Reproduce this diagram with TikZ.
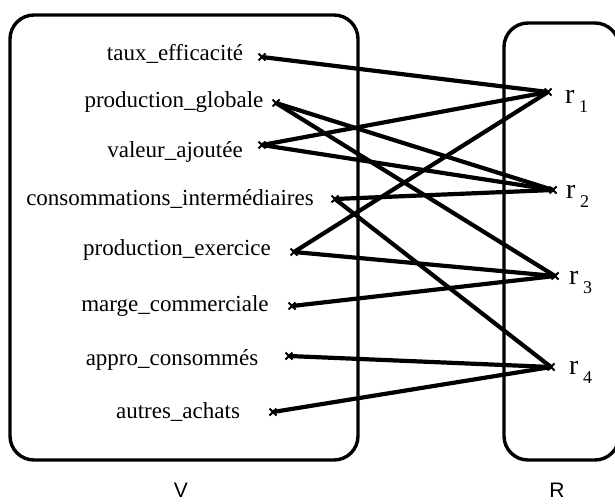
\documentclass[tikz,border=0pt]{standalone}
\usepackage{fontspec}
\setmainfont{Liberation Serif}
\newfontfamily\setfont{Liberation Sans}
\begin{document}
\begin{tikzpicture}[x=1pt,y=-1pt,
  frame/.style={line width=3.4pt, rounded corners=24pt},
  link/.style={line width=4.2pt},
  tick/.style={line width=1.9pt},
  var/.style={anchor=base, inner sep=0pt, font=\fontsize{23}{25}\selectfont},
  rel/.style={anchor=base west, inner sep=0pt, font=\fontsize{28}{30}\selectfont},
  setname/.style={anchor=base, inner sep=0pt, font=\setfont\fontsize{21}{22}\selectfont}]
\useasboundingbox (0,0) rectangle (615,503);
\clip (0,0) rectangle (615,503);

% the two sets
\draw[frame] (10,15) rectangle (358,460);
\draw[frame] (504,23) rectangle (619,460);
\node[setname] (V) at (181,497) {V};
\node[setname] (R) at (557,497) {R};

% variables of V
\node[var] (tx) at (175,60)  {taux\_efficacité};
\node[var] (pg) at (174,107) {production\_globale};
\node[var] (va) at (175,157) {valeur\_ajoutée};
\node[var] (ci) at (170,205) {consommations\_intermédiaires};
\node[var] (pe) at (177,255) {production\_exercice};
\node[var] (mc) at (175,311) {marge\_commerciale};
\node[var] (ac) at (172,365) {appro\_consommés};
\node[var] (aa) at (178,418) {autres\_achats};

% relations of R
\newcommand\relsub[1]{\,\raisebox{-9pt}{\fontsize{18}{18}\selectfont #1}}
\node[rel] (r1) at (565,103) {r\relsub{1}};
\node[rel] (r2) at (566,198) {r\relsub{2}};
\node[rel] (r3) at (569,284) {r\relsub{3}};
\node[rel] (r4) at (569,374) {r\relsub{4}};

% attachment points
\coordinate (ptx) at (262,57);
\coordinate (ppg) at (276,103);
\coordinate (pva) at (262,145);
\coordinate (pci) at (335,199);
\coordinate (ppe) at (294,252);
\coordinate (pmc) at (292,306);
\coordinate (pac) at (289,356);
\coordinate (paa) at (273,412);
\coordinate (pr1) at (548,92);
\coordinate (pr2) at (553,190);
\coordinate (pr3) at (555,276);
\coordinate (pr4) at (551,367);

% links between variables and relations
\draw[link] (ptx) -- (pr1);
\draw[link] (ppg) -- (pr2);
\draw[link] (ppg) -- (pr3);
\draw[link] (pva) -- (pr1);
\draw[link] (pva) -- (pr2);
\draw[link] (pci) -- (pr2);
\draw[link] (pci) -- (pr4);
\draw[link] (ppe) -- (pr1);
\draw[link] (ppe) -- (pr3);
\draw[link] (pmc) -- (pr3);
\draw[link] (pac) -- (pr4);
\draw[link] (paa) -- (pr4);

% small crosses at the attachment points
\foreach \p in {ptx,ppg,pva,pci,ppe,pmc,pac,paa,pr1,pr2,pr3,pr4}{
  \draw[tick] ([shift={(-3.5,-3.5)}]\p) -- ([shift={(3.5,3.5)}]\p);
  \draw[tick] ([shift={(-3.5,3.5)}]\p) -- ([shift={(3.5,-3.5)}]\p);
}
\end{tikzpicture}
\end{document}
